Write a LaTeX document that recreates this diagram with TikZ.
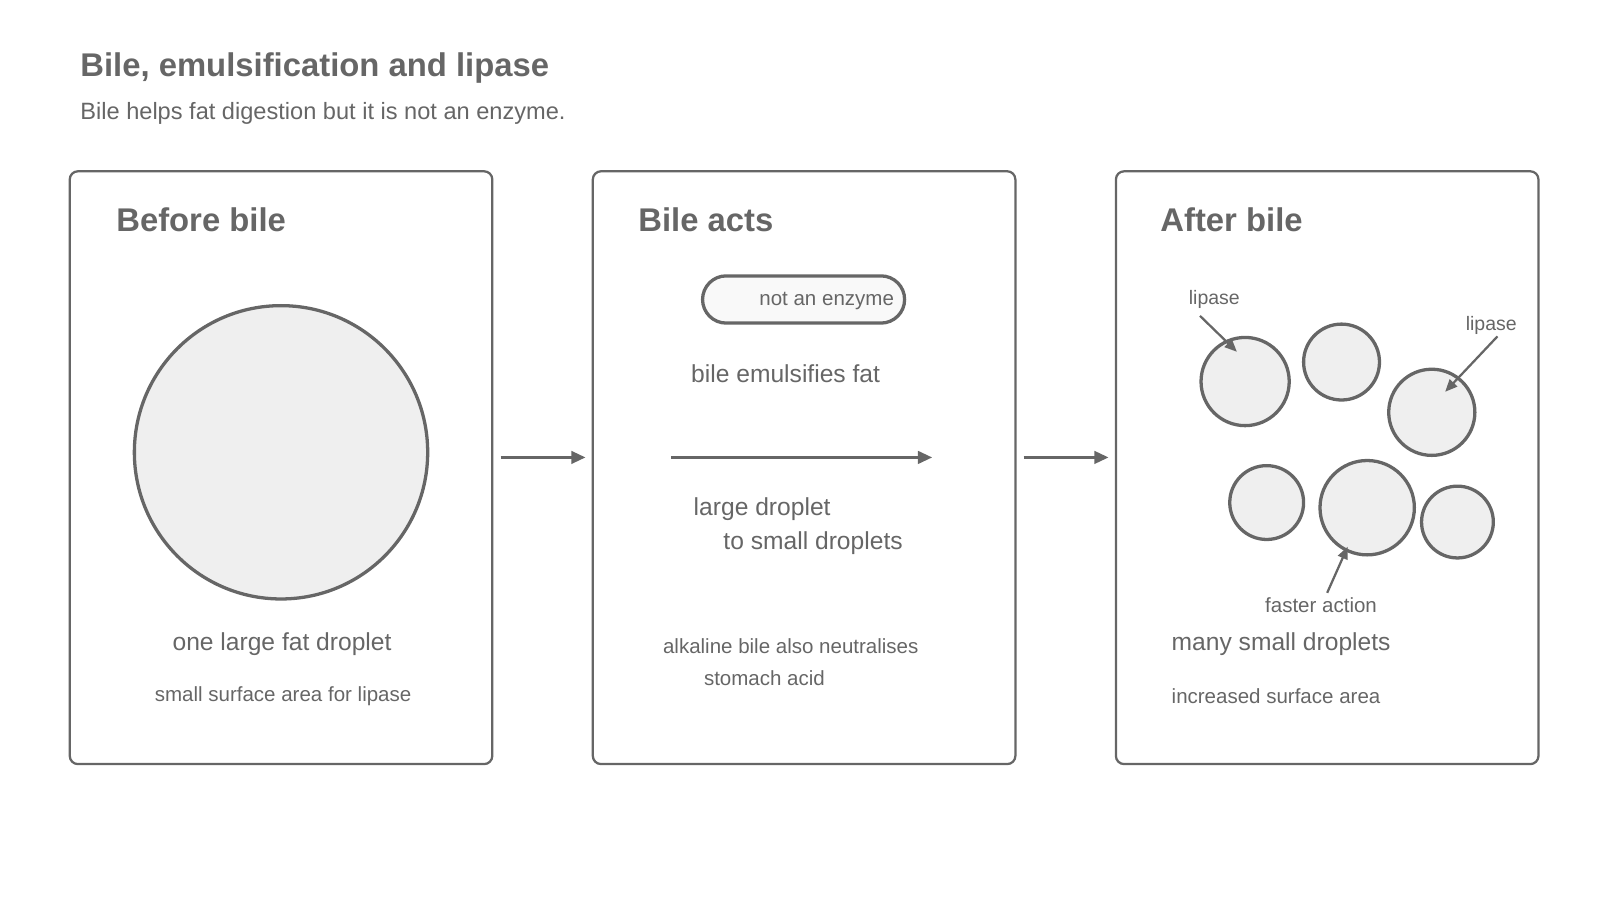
\documentclass[tikz,border=0pt]{standalone}
\usepackage{fontspec}
\setmainfont{Liberation Sans}
\usetikzlibrary{arrows.meta}
\definecolor{ink}{HTML}{666666}
\definecolor{fat}{HTML}{EFEFEF}
\begin{document}
\begin{tikzpicture}[x=0.5pt,y=-0.5pt,
  panel/.style={draw=ink,line width=1.1pt,rounded corners=4pt},
  drop/.style={circle,draw=ink,fill=fat,line width=1.6pt,inner sep=0pt},
  arr/.style={draw=ink,line width=1.6pt,-{Triangle[length=7pt,width=6pt]}},
  sarr/.style={draw=ink,line width=1.1pt,-{Triangle[length=6pt,width=5pt]}},
  txt/.style={text=ink,inner sep=0pt},
  head/.style={txt,font=\fontsize{16}{18}\selectfont\bfseries,anchor=west},
  mid/.style={txt,font=\fontsize{12}{14}\selectfont},
  sml/.style={txt,font=\fontsize{10}{12}\selectfont},
  lab/.style={txt,font=\fontsize{9.5}{11}\selectfont}]
\useasboundingbox (0,0) rectangle (1560,877);
\node[txt,anchor=west,font=\fontsize{16}{18}\selectfont\bfseries] (title) at (78,66) {Bile, emulsification and lipase};
\node[txt,anchor=west,font=\fontsize{11.5}{13}\selectfont] (sub) at (78,111) {Bile helps fat digestion but it is not an enzyme.};
% panels
\draw[panel] (68,167) rectangle (480,745);
\draw[panel] (578,167) rectangle (990,745);
\draw[panel] (1088,167) rectangle (1500,745);
\node[head] (h1) at (113,214) {Before bile};
\node[head] (h2) at (622,214) {Bile acts};
\node[head] (h3) at (1131,214) {After bile};
% panel 1
\node[drop,minimum size=286pt*0.5] (big) at (274,441) {};
\node[mid] (t1) at (275,628) {one large fat droplet};
\node[sml] (t2) at (276,679) {small surface area for lipase};
% between arrows
\coordinate (a1) at (488,446); \coordinate (b1) at (571,446);
\coordinate (a2) at (998,446); \coordinate (b2) at (1081,446);
\draw[arr] (a1) -- (b1);
\draw[arr] (a2) -- (b2);
% panel 2
\node[draw=ink,line width=1.6pt,fill=fat!40,rounded corners=11.5pt,minimum width=98.5pt,minimum height=23pt,inner sep=0pt] (pill) at (783.5,292) {};
\node[sml,anchor=east] (ne) at (872,293) {not an enzyme};
\node[mid] (emul) at (766,364) {bile emulsifies fat};
\coordinate (c1) at (654,446); \coordinate (c2) at (909,446);
\draw[arr] (c1) -- (c2);
\node[mid,anchor=west] (ld) at (676,496) {large droplet};
\node[mid,anchor=west] (sd) at (705,530) {to small droplets};
\node[sml] (alk) at (771,630) {alkaline bile also neutralises};
\node[sml,anchor=west] (sa) at (686,661) {stomach acid};
% panel 3
\node[drop,minimum size=43pt] (d1) at (1214,372) {};
\node[drop,minimum size=37pt] (d2) at (1308,353) {};
\node[drop,minimum size=42pt] (d3) at (1396,402) {};
\node[drop,minimum size=36pt] (d4) at (1235,490) {};
\node[drop,minimum size=46pt] (d5) at (1333,495) {};
\node[drop,minimum size=35pt] (d6) at (1421,509) {};
\node[lab] (l1) at (1184,292) {lipase};
\node[lab] (l2) at (1454,317) {lipase};
\node[sml] (fa) at (1288,590) {faster action};
\coordinate (p1) at (1206,343);
\coordinate (p2) at (1409,382);
\coordinate (p3) at (1314,533);
\draw[sarr] (1170,308) -- (p1);
\draw[sarr] (1460,328) -- (p2);
\draw[sarr] (1294,578) -- (p3);
\node[mid,anchor=west] (many) at (1142,628) {many small droplets};
\node[sml,anchor=west] (inc) at (1142,679) {increased surface area};
\end{tikzpicture}
\end{document}
